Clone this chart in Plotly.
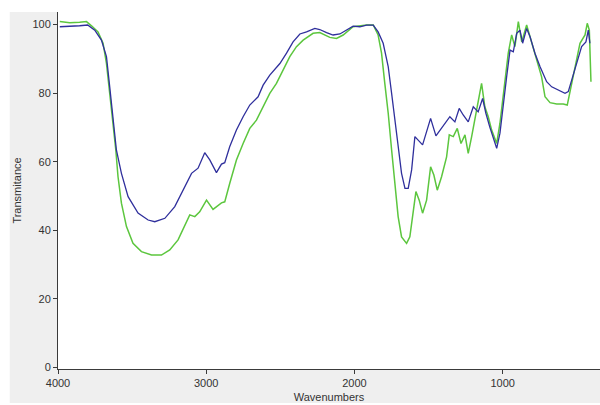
import plotly.graph_objects as go

# Wavenumbers (cm-1) and transmittance (%)
blue_wn = [3988, 3921, 3854, 3800, 3752, 3707, 3673, 3651, 3629, 3606, 3572, 3527, 3460, 3392,
           3347, 3279, 3212, 3145, 3099, 3055, 3010, 2976, 2931, 2897, 2875, 2841, 2796, 2751,
           2706, 2650, 2616, 2571, 2503, 2458, 2414, 2368, 2323, 2267, 2234, 2188, 2144, 2098,
           2053, 2009, 1963, 1918, 1873, 1840, 1806, 1772, 1749, 1727, 1705, 1682, 1659, 1637,
           1614, 1592, 1540, 1486, 1450, 1412, 1356, 1322, 1293, 1266, 1232, 1198, 1165, 1135,
           1113, 1086, 1063, 1040, 1018, 996, 973, 950, 928, 905, 883, 865, 838, 815, 782, 748,
           703, 669, 625, 579, 557, 534, 500, 467, 438, 422, 411]
blue_t = [99.3, 99.4, 99.6, 99.8, 98.3, 95.4, 90.6, 81.8, 72.1, 63.4, 56.6, 49.8, 45.0, 43.0,
          42.5, 43.5, 46.9, 52.7, 56.6, 58.1, 62.6, 60.5, 56.8, 59.3, 59.7, 64.4, 69.2, 73.1,
          76.5, 78.9, 82.3, 85.2, 88.6, 91.6, 94.9, 97.2, 97.8, 98.8, 98.5, 97.6, 96.9, 97.2,
          98.3, 99.5, 99.3, 99.8, 99.8, 97.8, 94.5, 87.7, 79.9, 72.1, 63.4, 56.6, 52.2, 52.2,
          57.6, 67.3, 64.9, 72.6, 67.5, 69.7, 73.1, 71.6, 75.5, 73.6, 71.6, 76.0, 74.5, 78.4,
          74.1, 70.0, 66.8, 63.9, 68.3, 77.0, 84.7, 92.5, 92.0, 97.4, 98.3, 94.5, 98.8, 96.4,
          91.6, 87.7, 83.3, 81.8, 80.9, 79.9, 80.4, 83.8, 88.6, 93.5, 94.9, 98.3, 94.5]

green_wn = [3988, 3921, 3854, 3808, 3772, 3730, 3696, 3673, 3651, 3629, 3610, 3595, 3572, 3538,
            3494, 3437, 3369, 3302, 3246, 3190, 3145, 3111, 3077, 3044, 2998, 2954, 2897, 2875,
            2841, 2796, 2751, 2706, 2661, 2616, 2571, 2526, 2481, 2436, 2391, 2346, 2279, 2234,
            2166, 2121, 2076, 2009, 1918, 1873, 1840, 1817, 1795, 1772, 1749, 1727, 1705, 1682,
            1648, 1626, 1608, 1585, 1563, 1540, 1513, 1486, 1464, 1441, 1412, 1378, 1360, 1333,
            1306, 1281, 1254, 1232, 1209, 1176, 1142, 1120, 1097, 1074, 1040, 1018, 991, 962,
            939, 917, 894, 871, 838, 804, 770, 737, 714, 680, 635, 591, 564, 541, 512, 478, 444,
            429, 415, 404]
green_t = [100.8, 100.5, 100.6, 100.8, 99.5, 97.8, 94.5, 88.6, 79.9, 71.2, 63.4, 55.6, 47.9, 41.1,
           36.2, 33.8, 32.8, 32.8, 34.3, 37.2, 41.1, 44.5, 44.0, 45.4, 48.8, 46.1, 48.0, 48.3,
           53.7, 60.5, 65.3, 69.7, 72.1, 76.0, 79.9, 82.8, 86.7, 90.6, 93.5, 95.4, 97.4, 97.6,
           96.2, 95.9, 96.9, 99.3, 99.8, 99.8, 96.9, 91.6, 82.8, 74.1, 63.4, 52.7, 44.0, 38.1,
           36.2, 38.1, 44.0, 51.3, 48.8, 45.0, 48.8, 58.5, 56.1, 51.7, 55.6, 61.4, 67.8, 67.3,
           69.7, 65.3, 67.8, 62.4, 67.3, 75.0, 82.8, 76.0, 73.1, 69.2, 65.3, 71.2, 80.9, 91.6,
           96.9, 93.5, 100.8, 94.9, 99.8, 94.5, 89.6, 84.7, 78.9, 77.2, 76.8, 76.8, 76.5, 81.4,
           87.7, 94.5, 96.9, 100.3, 98.3, 83.3]

y_ticks = [0, 20, 40, 60, 80, 100]
x_ticks = [4000, 3000, 2000, 1000]

fig = go.Figure()
fig.add_trace(go.Scatter(x=green_wn, y=green_t, mode="lines",
                         line=dict(color="#5cc63e", width=1.5), showlegend=False))
fig.add_trace(go.Scatter(x=blue_wn, y=blue_t, mode="lines",
                         line=dict(color="#2f2f9c", width=1.3), showlegend=False))

# white border strips outside the gray panel (top, far left, bottom edge)
fig.add_shape(type="rect", xref="paper", yref="paper", x0=-0.2, x1=1.1, y0=1.0, y1=1.1,
              fillcolor="white", line=dict(width=0), layer="above")
fig.add_shape(type="rect", xref="paper", yref="paper", x0=-0.2, x1=-0.089, y0=-0.2, y1=1.1,
              fillcolor="white", line=dict(width=0), layer="above")
fig.add_shape(type="rect", xref="paper", yref="paper", x0=-0.2, x1=1.1, y0=-0.2, y1=-0.095,
              fillcolor="white", line=dict(width=0), layer="above")

axis_font = dict(family="Liberation Sans, Arial, sans-serif", size=11, color="#333333")
fig.update_layout(
    width=600, height=405,
    margin=dict(l=58, r=0, t=12, b=36),
    paper_bgcolor="#efefef", plot_bgcolor="white",
    font=axis_font,
    xaxis=dict(range=[4000, 343], tickvals=x_ticks, ticktext=[str(v) for v in x_ticks],
               showgrid=False, zeroline=False, showline=True, linecolor="#3a3a3a", linewidth=1,
               mirror=True, ticks="outside", ticklen=4, tickcolor="#3a3a3a",
               tickfont=axis_font,
               title=dict(text="Wavenumbers", font=axis_font, standoff=5)),
    yaxis=dict(range=[-0.4, 103.6], tickvals=y_ticks, ticktext=[str(v) for v in y_ticks],
               showgrid=False, zeroline=False, showline=True, linecolor="#3a3a3a", linewidth=1,
               ticks="outside", ticklen=4, tickcolor="#3a3a3a",
               tickfont=axis_font,
               title=dict(text="Transmitance", font=axis_font, standoff=8)),
)

fig.write_html("out.html", config={"displayModeBar": False},
               post_script="document.body.style.margin='0';")
